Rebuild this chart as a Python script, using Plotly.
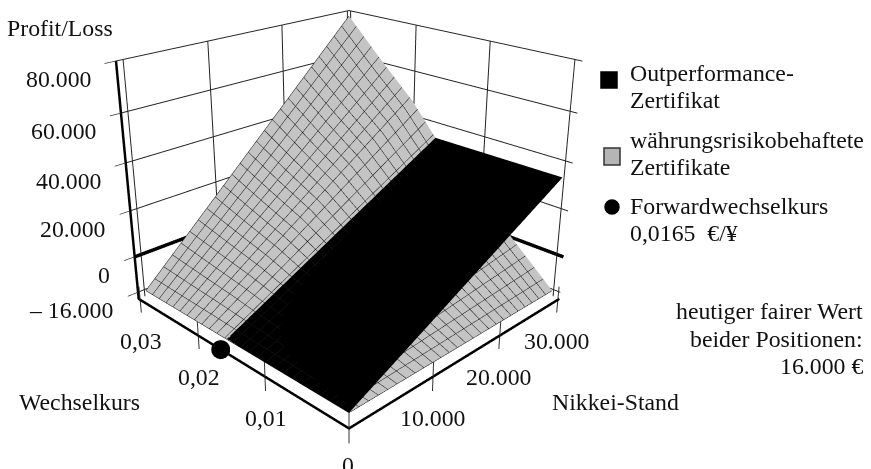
import plotly.graph_objects as go

W, H = 871, 800
TOP = 214  # part of the tall scene above the visible window

nikkei = [0, 5000, 10000, 15000, 20000, 25000, 30000]
kurs = [0, 0.005, 0.01, 0.015, 0.0165, 0.02, 0.025, 0.03]
grey_z = [
    [-16000, -16000, -16000, -16000, -16000, -16000, -16000],
    [-16000, -13500, -11000, -8500, -6000, -3500, -1000],
    [-16000, -11000, -6000, -1000, 4000, 9000, 14000],
    [-16000, -8500, -1000, 6500, 14000, 21500, 29000],
    [-16000, -7750, 500, 8750, 17000, 25250, 33500],
    [-16000, -5500, 5000, 15500, 26000, 36500, 47000],
    [-16000, -3000, 10000, 23000, 36000, 49000, 62000],
    [-16000, -350, 15300, 30950, 46600, 62250, 77900],
]
black_kurs = [0, 0.0165]
black_z = [
    [-16000, -7750, 500, 8750, 17000, 25250, 33500],
    [-16000, -7750, 500, 8750, 17000, 25250, 33500],
]

nikkei_ticks = [0, 10000, 20000, 30000]
nikkei_labels = ["0", "10.000", "20.000", "30.000"]
kurs_ticks = [0, 0.01, 0.02, 0.03]
kurs_labels = ["", "0,01", "0,02", "0,03"]
pl_ticks = [-16000, 0, 20000, 40000, 60000, 80000]
pl_labels = ["– 16.000", "0", "20.000", "40.000", "60.000", "80.000"]

x_range = [-800, 30300]
y_range = [-0.0008, 0.0303]
floor = -19000
z_range = [-25000, 80000]
stub_top = -13000
forward = 0.0165

# lines that run along the edge of the box stay just inside it so they are not clipped
x_lo, x_hi = x_range[0] + 25, x_range[1] - 25
y_lo, y_hi = y_range[0] + 0.000025, y_range[1] - 0.000025

FONT = "Liberation Serif"
FS = 23.8
INK = "#111111"


def surf(ys, z, colour, line, grid=True):
    cont = dict(show=grid, color=line, width=4, highlight=False)
    return go.Surface(
        x=nikkei, y=ys, z=z, showscale=False,
        colorscale=[[0, colour], [1, colour]],
        lighting=dict(ambient=1, diffuse=0, specular=0, roughness=1, fresnel=0),
        contours=dict(
            x=dict(start=0, end=30000, size=1200, **cont),
            y=dict(start=0, end=0.03, size=0.0012, **cont),
            z=dict(show=False, highlight=False),
        ),
        hoverinfo="skip",
    )


def line3d(xs, ys, zs, width, colour="black"):
    return go.Scatter3d(x=xs, y=ys, z=zs, mode="lines", line=dict(color=colour, width=width),
                        showlegend=False, hoverinfo="skip")


def segments(pairs):
    xs, ys, zs = [], [], []
    for (x0, y0, z0), (x1, y1, z1) in pairs:
        xs += [x0, x1, None]
        ys += [y0, y1, None]
        zs += [z0, z1, None]
    return xs, ys, zs


fig = go.Figure()
fig.add_trace(surf(kurs, grey_z, "#c4c4c4", "#161616"))
fig.add_trace(surf(black_kurs, black_z, "#000000", "#000000", grid=False))
# heavy zero line on the back walls
fig.add_trace(line3d([x_lo, x_hi, x_hi], [y_hi, y_hi, y_lo], [0, 0, 0], 7))
# heavy axis lines
fig.add_trace(line3d([x_hi, x_lo, x_lo, x_lo], [y_lo, y_lo, y_hi, y_hi],
                     [floor, floor, floor, z_range[1]], 5))
# thin vertical grid lines on the two back walls
walls = []
for t in nikkei_ticks:
    walls.append(((t, y_hi, floor), (t, y_hi, z_range[1])))
for t in kurs_ticks:
    walls.append(((x_hi, t, floor), (x_hi, t, z_range[1])))
fig.add_trace(line3d(*segments(walls), 2, "#222222"))
# vertical tick stubs through the floor axes
stubs = []
for t in nikkei_ticks:
    stubs.append(((t if t else x_lo, y_lo, z_range[0]), (t if t else x_lo, y_lo, stub_top)))
for t in kurs_ticks[1:]:
    stubs.append(((x_lo, t, z_range[0]), (x_lo, t, stub_top)))
fig.add_trace(line3d(*segments(stubs), 2, "#333333"))
fig.add_trace(go.Scatter3d(
    x=[x_lo], y=[forward], z=[floor], mode="markers",
    marker=dict(color="black", size=11), showlegend=False, hoverinfo="skip"))


def axis(rng, ticks, grid=False, ticklen=0):
    return dict(
        range=rng, tickmode="array", tickvals=ticks, title=dict(text=""),
        showticklabels=False, showbackground=False, showgrid=grid,
        gridcolor="#222222", gridwidth=2, showline=False, zeroline=False,
        ticks="outside" if ticklen else "", ticklen=ticklen, tickcolor="#333333", tickwidth=1.5,
        showspikes=False,
    )


def ann(text, px, py, anchor="left"):
    return dict(text=text, x=px / W, y=1 - (py + TOP) / H, xref="paper", yref="paper",
                xanchor=anchor, yanchor="middle", showarrow=False, align=anchor,
                font=dict(family=FONT, size=FS, color=INK))


def box(x0, y0, x1, y1, fill, kind="rect", line="black"):
    return dict(type=kind, xref="paper", yref="paper", x0=x0 / W, x1=x1 / W,
                y0=1 - (y0 + TOP) / H, y1=1 - (y1 + TOP) / H,
                fillcolor=fill, line=dict(color=line, width=1.5))


def tick_text(text, x, y, z, xshift, yshift, anchor="center"):
    return dict(text=text, x=x, y=y, z=z, showarrow=False, xanchor=anchor, yanchor="middle",
                xshift=xshift, yshift=yshift, font=dict(family=FONT, size=FS, color=INK))


scene_texts = []
for t, s in zip(nikkei_ticks, nikkei_labels):
    scene_texts.append(tick_text(s, t if t else x_lo, y_lo, floor, -1, -41 if t else -37))
for t, s in zip(kurs_ticks, kurs_labels):
    if s:
        scene_texts.append(tick_text(s, x_lo, t, floor, 1, -41))
for t, s in zip(pl_ticks, pl_labels):
    scene_texts.append(tick_text(s, x_lo, y_hi, t, -23, -18, "right"))

fig.update_layout(
    width=W, height=H, margin=dict(l=0, r=0, t=0, b=0), paper_bgcolor="white",
    showlegend=False,
    scene=dict(
        domain=dict(x=[0, 698 / W], y=[0, 1]),
        xaxis=axis(x_range, nikkei_ticks),
        yaxis=axis(y_range, kurs_ticks),
        zaxis=axis(z_range, pl_ticks, True, 14),
        aspectmode="manual", aspectratio=dict(x=1, y=1, z=0.87),
        camera=dict(eye=dict(x=-2.013, y=-2.013, z=1.21), center=dict(x=0, y=0, z=0.025),
                    up=dict(x=0, y=0, z=1)),
        annotations=scene_texts,
    ),
    annotations=[
        ann("Profit/Loss", 5, 28),
        ann("Wechselkurs", 17, 402),
        ann("Nikkei-Stand", 550, 402),
        ann("Outperformance-", 628, 73),
        ann("Zertifikat", 628, 100),
        ann("währungsrisikobehaftete", 628, 140),
        ann("Zertifikate", 628, 167),
        ann("Forwardwechselkurs", 628, 206),
        ann("0,0165  €/¥", 628, 233),
        ann("heutiger fairer Wert", 865, 311, "right"),
        ann("beider Positionen:", 865, 339, "right"),
        ann("16.000 €", 865, 366, "right"),
    ],
    shapes=[
        box(601, 72, 617, 88, "black"),
        box(604, 148, 620, 165, "#b5b5b5", line="#333333"),
        box(605, 200, 619, 214, "black", kind="circle"),
    ],
)
fig.write_html(
    "out.html",
    post_script=("document.body.style.margin='0';document.body.style.overflow='hidden';"
                 "document.getElementById('{plot_id}').style.marginTop='-%dpx';" % TOP),
)
